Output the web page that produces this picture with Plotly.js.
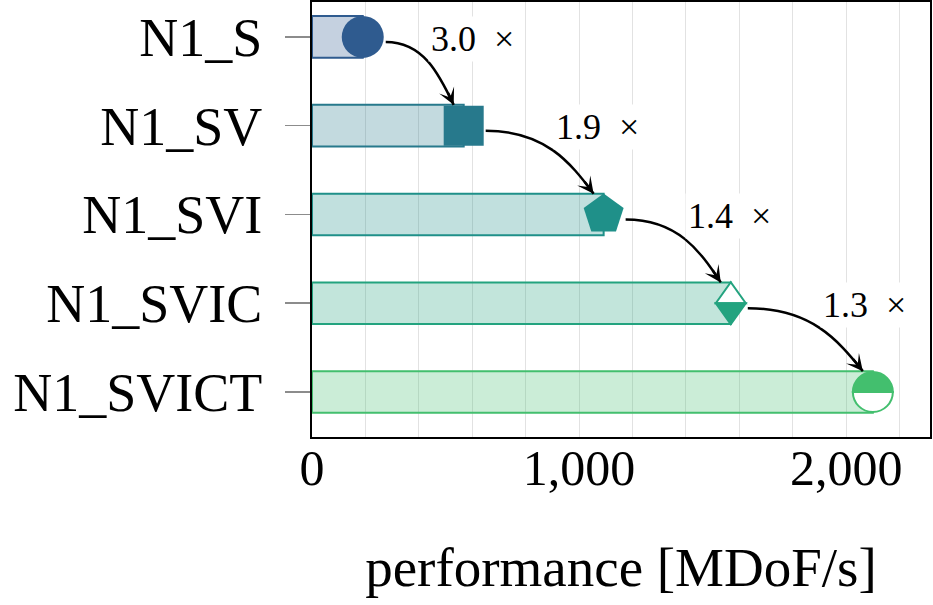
<!DOCTYPE html>
<html>
<head>
<meta charset="utf-8">
<script src="https://cdn.plot.ly/plotly-3.0.1.min.js"></script>
<style>
  html, body { margin: 0; padding: 0; background: #ffffff; }
  #chart { width: 933px; height: 605px; }
</style>
</head>
<body>
<div id="chart"></div>
<script>
// Throughput of the successive kernel variants (MDoF/s)
const variants = ['N1_S', 'N1_SV', 'N1_SVI', 'N1_SVIC', 'N1_SVICT'];
const performance = [190, 568, 1092, 1568, 2100];
const xTickValues = [0, 1000, 2000];
const xTickLabels = ['0', '1,000', '2,000'];

const colors = ['#2f5b8f', '#27798c', '#1f9089', '#23a37f', '#43bf6e'];
const FONT = '"Liberation Serif", "Times New Roman", serif';

const W = 933, H = 605;
const M = { l: 312, r: 3, t: 2, b: 168 };
const xRange = [0, 2314];
const yRange = [4.507, -0.394];
const plotW = W - M.l - M.r;
const plotH = H - M.t - M.b;
const pxPerX = plotW / (xRange[1] - xRange[0]);
const pxPerY = plotH / (yRange[0] - yRange[1]);
const idx = variants.map((_, i) => i);
const barWidth = 0.47;
// half widths (px) of the end markers, used to start the speed-up arrows
const markerHalfWidth = [21, 20, 20, 15, 21];

function rgba(hex, a) {
  const n = parseInt(hex.slice(1), 16);
  return 'rgba(' + ((n >> 16) & 255) + ',' + ((n >> 8) & 255) + ',' + (n & 255) + ',' + a + ')';
}

const traces = [
  {
    type: 'bar', orientation: 'h',
    x: performance, y: idx, width: barWidth,
    marker: { color: colors.map(c => rgba(c, 0.28)), line: { color: colors, width: 2 } },
    hoverinfo: 'skip'
  },
  {
    type: 'scatter', mode: 'markers',
    x: performance.slice(0, 3), y: idx.slice(0, 3),
    marker: {
      symbol: ['circle', 'square', 'pentagon'],
      size: [42, 40, 42],
      color: colors.slice(0, 3),
      opacity: 1,
      line: { width: 0 }
    },
    hoverinfo: 'skip'
  }
];

// half-filled end markers (diamond and circle), sized in pixels around the data point
const k = 0.5523 * 20;
const upperCircle = `M-20,0 C-20,${k} -${k},20 0,20 C${k},20 20,${k} 20,0 Z`;
const lowerCircle = `M-20,0 C-20,-${k} -${k},-20 0,-20 C${k},-20 20,-${k} 20,0 Z`;
function pixelShape(i, path, fill, lineWidth) {
  return {
    type: 'path', xref: 'x', yref: 'y',
    xsizemode: 'pixel', ysizemode: 'pixel',
    xanchor: performance[i], yanchor: idx[i],
    path: path, fillcolor: fill,
    line: { color: colors[i], width: lineWidth },
    layer: 'above'
  };
}
const shapes = [
  pixelShape(3, 'M-15,0 L0,21 L15,0 Z', '#ffffff', 2),
  pixelShape(3, 'M-15,0 L0,-21 L15,0 Z', colors[3], 2),
  pixelShape(4, upperCircle, colors[4], 2),
  pixelShape(4, lowerCircle, '#ffffff', 2)
];

const annotations = [];
for (let i = 0; i < variants.length - 1; i++) {
  const p0 = { x: performance[i] + (markerHalfWidth[i] + 2) / pxPerX, y: idx[i] + 5 / pxPerY };
  const p3 = { x: performance[i + 1] - 10 / pxPerX, y: idx[i + 1] - barWidth / 2 };
  const dx = p3.x - p0.x, dy = p3.y - p0.y;
  const p1 = { x: p0.x + 0.55 * dx, y: p0.y };
  const p2 = { x: p3.x - 0.22 * dx, y: p3.y - 0.5 * dy };
  shapes.push({
    type: 'path', xref: 'x', yref: 'y', layer: 'above',
    path: `M${p0.x},${p0.y} C${p1.x},${p1.y} ${p2.x},${p2.y} ${p3.x},${p3.y}`,
    line: { color: '#000000', width: 2.5 }
  });
  // arrow head along the end tangent of the curve
  const tx = (p3.x - p2.x) * pxPerX, ty = (p3.y - p2.y) * pxPerY;
  const len = Math.hypot(tx, ty);
  annotations.push({
    x: p3.x, y: p3.y, xref: 'x', yref: 'y',
    ax: -tx / len * 20, ay: -ty / len * 20,
    text: ' ', showarrow: true, arrowhead: 3, arrowsize: 1.1,
    arrowwidth: 2.5, arrowcolor: '#000000', standoff: 0
  });
  // speed-up label at the middle of the curve
  const mid = {
    x: (p0.x + 3 * p1.x + 3 * p2.x + p3.x) / 8,
    y: (p0.y + 3 * p1.y + 3 * p2.y + p3.y) / 8
  };
  annotations.push({
    x: mid.x, y: mid.y, xref: 'x', yref: 'y',
    xanchor: 'left', yanchor: 'bottom',
    text: (performance[i + 1] / performance[i]).toFixed(1) + '\u2002\u00D7',
    showarrow: false, bgcolor: '#ffffff', borderpad: 2,
    font: { family: FONT, size: 36, color: '#000000' }
  });
}

const layout = {
  width: W, height: H,
  margin: M,
  paper_bgcolor: '#ffffff', plot_bgcolor: '#ffffff',
  showlegend: false,
  xaxis: {
    range: xRange, tickvals: xTickValues, ticktext: xTickLabels,
    showgrid: true, gridcolor: '#e2e2e2', gridwidth: 1,
    minor: { tick0: 0, dtick: 200, showgrid: true, gridcolor: '#e2e2e2', gridwidth: 1 },
    zeroline: false, showline: true, mirror: true, linecolor: '#000000', linewidth: 2,
    ticks: '', ticklabelstandoff: -14,
    tickfont: { family: FONT, size: 50, color: '#000000' },
    title: { text: 'performance [MDoF/s]', font: { family: FONT, size: 55, color: '#000000' }, standoff: 52 },
    fixedrange: true
  },
  yaxis: {
    range: yRange, tickvals: idx, ticktext: variants,
    showgrid: false, zeroline: false,
    showline: true, mirror: true, linecolor: '#000000', linewidth: 2,
    ticks: 'outside', ticklen: 25, tickcolor: '#8c8c8c', tickwidth: 1.5,
    ticklabelstandoff: 12,
    tickfont: { family: FONT, size: 54, color: '#000000' },
    fixedrange: true
  },
  shapes: shapes,
  annotations: annotations
};

Plotly.newPlot('chart', traces, layout, { staticPlot: true, displayModeBar: false });
</script>
</body>
</html>
